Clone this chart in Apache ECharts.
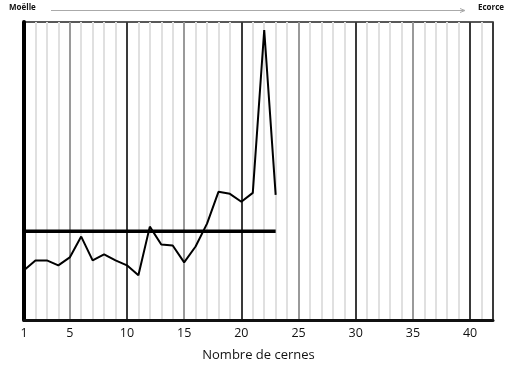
<!DOCTYPE html>
<html>
<head>
<meta charset="utf-8">
<script src="https://cdn.jsdelivr.net/npm/echarts@6/dist/echarts.min.js"></script>
<style>html,body{margin:0;padding:0;background:#fff}#c{width:507px;height:367px}</style>
</head>
<body>
<div id="c"></div>
<script>
// Ring number (x) and ring width (arbitrary units)
const rings = [1,2,3,4,5,6,7,8,9,10,11,12,13,14,15,16,17,18,19,20,21,22,23];
const widths = [50,60,60,55,63,84,60,66,60,55,45,94,76,75,58,74,97,129,127,119,128,292,126];
const xTickLabels = [1,5,10,15,20,25,30,35,40];
const xMin = 1, xMax = 42;
const yMin = 0, yMax = 300;
const startLabel = 'Moëlle';
const endLabel = 'Ecorce';
const axisTitle = 'Nombre de cernes';

const mean = widths.reduce((a,b)=>a+b,0)/widths.length;
const lineData = rings.map((r,i)=>[r, widths[i]]);
const meanData = [[rings[0], mean],[rings[rings.length-1], mean]];

const splitColors = [];
for (let v = xMin; v <= xMax; v++) {
  if (v === xMax || v % 10 === 0) splitColors.push('#3a3a3a');
  else if (v % 5 === 0) splitColors.push('#9a9a9a');
  else splitColors.push('#e0e0e0');
}

const chart = echarts.init(document.getElementById('c'), null, {renderer:'canvas'});
chart.setOption({
  animation: false,
  backgroundColor: '#fff',
  textStyle: {fontFamily: 'Open Sans'},
  grid: {left: 24, right: 14, top: 22, bottom: 45, show: true, borderColor: '#222', borderWidth: 1.5},
  graphic: [
    {type:'text', left: 9, top: 4, style:{text: startLabel, font:'bold 8px "Open Sans"', fill:'#111'}},
    {type:'text', right: 3, top: 4, style:{text: endLabel, font:'bold 8px "Open Sans"', fill:'#111'}},
    {type:'line', shape:{x1:51, y1:10.5, x2:464, y2:10.5}, style:{stroke:'#aaa', lineWidth:1}},
    {type:'polyline', shape:{points:[[460,8.5],[465,10.5],[460,12.5]]}, style:{stroke:'#aaa', lineWidth:1, fill:null}}
  ],
  xAxis: {
    type: 'value', min: xMin, max: xMax, interval: 1,
    axisLine: {show: true, onZero: false, lineStyle: {color: '#111', width: 3}},
    axisTick: {show: false},
    axisLabel: {
      color: '#111', fontSize: 12.5, fontWeight: 500, margin: 7,
      formatter: v => xTickLabels.indexOf(v) >= 0 ? String(v) : ''
    },
    splitLine: {show: true, lineStyle: {color: splitColors, width: 2}},
    name: axisTitle, nameLocation: 'middle', nameGap: 29,
    nameTextStyle: {color: '#111', fontSize: 13, fontWeight: 500}
  },
  yAxis: {
    type: 'value', min: yMin, max: yMax,
    axisLine: {show: true, lineStyle: {color: '#000', width: 4}},
    axisTick: {show: false}, axisLabel: {show: false}, splitLine: {show: false}
  },
  series: [
    {type:'line', data: meanData, symbol:'none', lineStyle:{color:'#000', width:3.5}, z: 3},
    {type:'line', data: lineData, symbol:'none', lineStyle:{color:'#000', width:2}, z: 4}
  ]
});
</script>
</body>
</html>
